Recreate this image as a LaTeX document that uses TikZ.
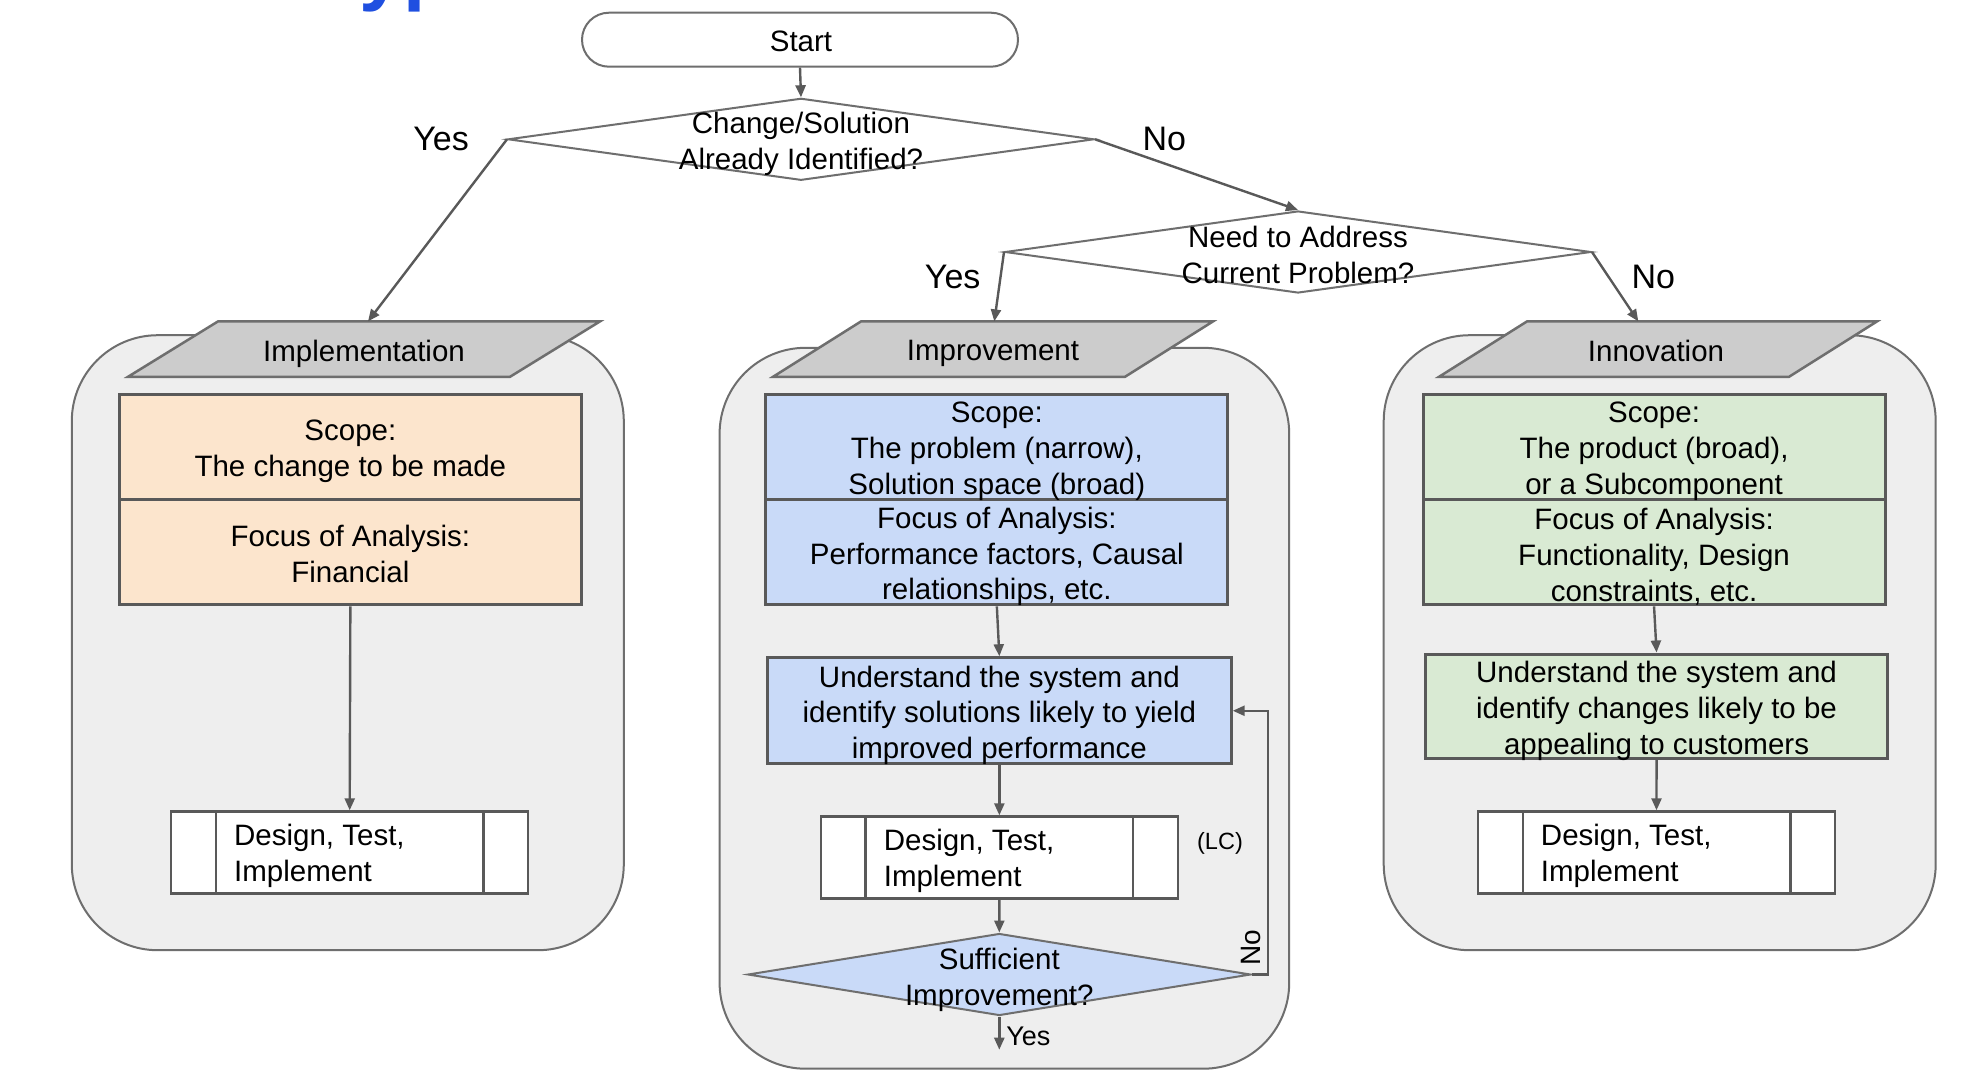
\documentclass[tikz,border=0pt]{standalone}
\usepackage{fontspec}
\setmainfont{Liberation Sans}
\usetikzlibrary{shapes.geometric,arrows.meta,calc}
\definecolor{bgc}{HTML}{EEEEEE}
\definecolor{cbord}{HTML}{6E6E6E}
\definecolor{lgray}{HTML}{595959}
\definecolor{pgray}{HTML}{CCCCCC}
\definecolor{orng}{HTML}{FCE5CD}
\definecolor{blu}{HTML}{C9DAF8}
\definecolor{grn}{HTML}{D9EAD3}
\definecolor{ttl}{HTML}{1F4FE0}
\newcommand\bxfont{\fontsize{29.5}{35.8}\selectfont}
\begin{document}
\begin{tikzpicture}[x=1pt,y=-1pt,
 ln/.style={draw=lgray, line width=2.4pt},
 arr/.style={ln, -{Triangle[length=12pt,width=10pt]}},
 cont/.style={draw=cbord, line width=2pt, fill=bgc, rounded corners=86pt, inner sep=0},
 para/.style={draw=cbord, line width=2.5pt, fill=pgray},
 bbox/.style={draw=lgray, line width=3pt, inner sep=0, minimum width=462pt},
 dtbox/.style={draw=lgray, line width=2.5pt, fill=white, minimum width=357pt, minimum height=82pt, inner sep=0},
 dia/.style={shape=diamond, draw=cbord, line width=2pt, inner sep=0, minimum width=586pt, minimum height=82pt},
 lbl/.style={font=\fontsize{34}{40}\selectfont, inner sep=0},
 txt/.style={font=\bxfont, align=center, inner sep=0}]
\useasboundingbox (0,0) rectangle (1976,1088);
\fill[white] (0,0) rectangle (1976,1088);
\begin{scope}
\clip (0,0) rectangle (1976,1088);
\node[anchor=base west, inner sep=0, text=ttl, font=\fontsize{80}{90}\selectfont\bfseries] (ttlfrag) at (359,-5) {yp};
\end{scope}

% containers
\node[cont, minimum width=552pt, minimum height=615pt] (cl) at (347.8,642.7) {};
\node[cont, minimum width=569.6pt, minimum height=720.9pt] (cm) at (1004.4,708.25) {};
\node[cont, minimum width=552pt, minimum height=615pt] (cr) at (1659.7,642.7) {};

% parallelograms
\draw[para] (128,376.8) -- (510,376.8) -- (600,321.4) -- (218,321.4) -- cycle;
\node[txt] (pimpl) at (364,353.5) {Implementation};
\draw[para] (773,376.8) -- (1125,376.8) -- (1213,321.4) -- (861,321.4) -- cycle;
\node[txt] (pimpr) at (993,353.5) {Improvement};
\draw[para] (1439,376.8) -- (1789,376.8) -- (1877,321.4) -- (1527,321.4) -- cycle;
\node[txt] (pinnov) at (1656,350.5) {Innovation};
\coordinate (implTop) at (368,321.4);
\coordinate (imprTop) at (994.3,321.4);
\coordinate (innovTop) at (1638.3,321.4);

% boxes
\node[bbox, fill=orng, minimum height=104.6pt] (lscope) at (350.35,446.7) {};
\node[bbox, fill=orng, minimum height=105.9pt] (lfocus) at (350.35,551.95) {};
\node[bbox, fill=blu, minimum height=104.6pt] (mscope) at (996.85,446.7) {};
\node[bbox, fill=blu, minimum height=105.9pt] (mfocus) at (996.85,551.95) {};
\node[bbox, fill=grn, minimum height=104.6pt] (rscope) at (1654.05,446.7) {};
\node[bbox, fill=grn, minimum height=105.9pt] (rfocus) at (1654.05,551.95) {};
\node[bbox, fill=blu, minimum width=463.7pt, minimum height=106pt] (mund) at (999.35,710.75) {};
\node[bbox, fill=grn, minimum height=104.6pt] (rund) at (1656.55,706.3) {};
\node[txt] (lscopet) at ([yshift=-4.5pt]lscope.center) {Scope:\\The change to be made};
\node[txt] (lfocust) at ([yshift=-2pt]lfocus.center) {Focus of Analysis:\\Financial};
\node[txt] (mscopet) at ([yshift=-4.5pt]mscope.center) {Scope:\\The problem (narrow),\\Solution space (broad)};
\node[txt] (mfocust) at ([yshift=-4.5pt]mfocus.center) {Focus of Analysis:\\Performance factors, Causal\\relationships, etc.};
\node[txt] (rscopet) at ([yshift=-4.5pt]rscope.center) {Scope:\\The product (broad),\\or a Subcomponent};
\node[txt] (rfocust) at ([yshift=-4.5pt]rfocus.center) {Focus of Analysis:\\Functionality, Design\\constraints, etc.};
\node[txt] (mundt) at ([yshift=-4.5pt]mund.center) {Understand the system and\\identify solutions likely to yield\\improved performance};
\node[txt] (rundt) at ([yshift=-4.5pt]rund.center) {Understand the system and\\identify changes likely to be\\appealing to customers};

% predefined process boxes
\node[dtbox] (ldes) at (349.7,852.55) {};
\node[dtbox] (mdes) at (999.35,857.55) {};
\node[dtbox] (rdes) at (1656.5,852.55) {};
\foreach \b in {ldes,mdes,rdes}{
  \draw[draw=lgray, line width=2.5pt] ([xshift=46pt]\b.north west) -- ([xshift=46pt]\b.south west);
  \draw[draw=lgray, line width=2.5pt] ([xshift=-46pt]\b.north east) -- ([xshift=-46pt]\b.south east);
}
\node[txt, anchor=west, align=left] (ldest) at ([xshift=64pt,yshift=-3.5pt]ldes.west) {Design, Test,\\Implement};
\node[txt, anchor=west, align=left] (mdest) at ([xshift=64pt,yshift=-3.5pt]mdes.west) {Design, Test,\\Implement};
\node[txt, anchor=west, align=left] (rdest) at ([xshift=64pt,yshift=-3.5pt]rdes.west) {Design, Test,\\Implement};

% start and diamonds
\node[draw=cbord, line width=2pt, rounded corners=27pt, minimum width=436pt, minimum height=54pt, inner sep=0] (start) at (800,39.7) {};
\node[txt] (startt) at (801,41.5) {Start};
\node[dia, fill=white] (d1) at (801,139.3) {};
\node[txt] (d1t) at (801,144) {Change/Solution\\Already Identified?};
\node[dia, fill=white] (d2) at (1298,252) {};
\node[txt] (d2t) at (1298,255) {Need to Address\\Current Problem?};
\node[dia, fill=blu, minimum width=503pt] (d3) at (999.3,974.5) {};
\node[txt] (d3t) at (999.3,980) {Sufficient\\Improvement?};
\coordinate (yesEnd) at (999.3,1049.7);

% connectors
\draw[arr] (start.south) -- (d1.north);
\draw[arr] (d1.west) -- (implTop);
\draw[arr] (d1.east) -- (d2.north);
\draw[arr] (d2.west) -- (imprTop);
\draw[arr] (d2.east) -- (innovTop);
\draw[arr] (lfocus.south) -- (ldes.north);
\draw[arr] (mfocus.south) -- (mund.north);
\draw[arr] (mund.south) -- (mdes.north);
\draw[arr] (mdes.south) -- (d3.north);
\draw[arr] (d3.east) -- ++(16.4,0) |- (mund.east);
\draw[arr] (d3.south) -- (yesEnd);
\draw[arr] (rfocus.south) -- (rund.north);
\draw[arr] (rund.south) -- (rdes.north);

% labels
\node[lbl] (y1) at (441,138.6) {Yes};
\node[lbl] (n1) at (1164.4,138.6) {No};
\node[lbl] (y2) at (952.7,277.2) {Yes};
\node[lbl] (n2) at (1653.4,277.2) {No};
\node[font=\fontsize{27}{32}\selectfont, inner sep=0] (y3) at (1028.3,1035.9) {Yes};
\node[font=\fontsize{23.5}{28}\selectfont, inner sep=0] (lc) at (1220,843) {(LC)};
\node[font=\fontsize{28}{32}\selectfont, rotate=90, inner sep=0] (n3) at (1251,948) {No};
\end{tikzpicture}
\end{document}
